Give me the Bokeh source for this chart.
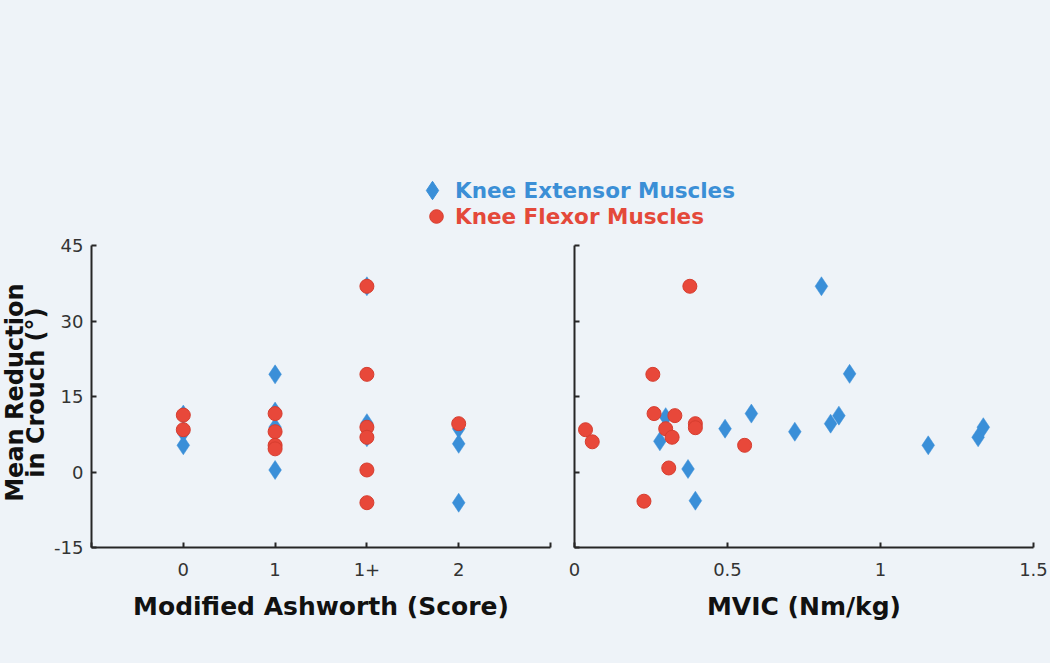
import numpy as np
from bokeh.plotting import figure
from bokeh.models import Range1d, FixedTicker, Legend, LegendItem, Label, PrintfTickFormatter
from bokeh.layouts import column, row
from bokeh.embed import file_html
from bokeh.resources import INLINE

# ---------------- data ----------------
ash_categories = ["0", "1", "1+", "2"]

ext_ash_cat = ["0", "0", "0", "1", "1", "1", "1", "1+", "1+", "1+", "2", "2", "2"]
ext_ash_y = [11.4, 7.8, 5.3, 19.4, 12.0, 8.9, 0.4, 36.9, 9.7, 6.9, 8.6, 5.6, -6.1]

flex_ash_cat = ["0", "0", "1", "1", "1", "1", "1+", "1+", "1+", "1+", "1+", "1+", "2"]
flex_ash_y = [11.3, 8.4, 11.6, 8.0, 5.3, 4.6, 36.9, 19.4, 8.9, 6.9, 0.4, -6.1, 9.6]

ext_mvic_x = [0.298, 0.279, 0.371, 0.395, 0.492, 0.578, 0.720, 0.807, 0.837, 0.864, 0.899, 1.156, 1.319, 1.336]
ext_mvic_y = [10.9, 6.1, 0.6, -5.7, 8.6, 11.6, 8.0, 36.9, 9.6, 11.2, 19.5, 5.3, 6.9, 8.9]

flex_mvic_x = [0.036, 0.058, 0.256, 0.260, 0.328, 0.298, 0.319, 0.395, 0.395, 0.377, 0.308, 0.227, 0.556]
flex_mvic_y = [8.4, 6.0, 19.4, 11.6, 11.2, 8.6, 6.9, 9.6, 8.8, 36.9, 0.8, -5.8, 5.3]

y_ticks = [-15, 0, 15, 30, 45]
mvic_ticks = [0, 0.5, 1, 1.5]
legend_labels = ["Knee Extensor Muscles", "Knee Flexor Muscles"]
x_label_left = "Modified Ashworth (Score)"
x_label_right = "MVIC (Nm/kg)"
y_label_lines = ["Mean Reduction", "in Crouch (\u00b0)"]

# ---------------- style ----------------
BG = "#eef3f8"
BLUE = "#3a8fd8"
RED = "#e8483a"
RED_EDGE = "#d63d2f"
BLUE_TXT = "#3b8fd6"
RED_TXT = "#e4493a"
AX = "#262626"
FONT = "DejaVu Sans"

ext_ash_x = [ash_categories.index(c) for c in ext_ash_cat]
flex_ash_x = [ash_categories.index(c) for c in flex_ash_cat]

yr = Range1d(-15, 45)
ROW_H = 427
TOP_H = 236
YL_W = 50


def style(p):
    p.background_fill_color = BG
    p.border_fill_color = BG
    p.outline_line_color = None
    p.xgrid.visible = False
    p.ygrid.visible = False
    for ax in (p.xaxis[0], p.yaxis[0]):
        ax.axis_line_color = AX
        ax.axis_line_width = 2
        ax.major_tick_line_color = AX
        ax.major_tick_line_width = 2
        ax.major_tick_in = 5
        ax.major_tick_out = 0
        ax.minor_tick_line_color = None
        ax.major_label_text_font = FONT
        ax.major_label_text_font_size = "18px"
        ax.major_label_text_color = "#333333"
        ax.axis_label_text_font = FONT
        ax.axis_label_text_font_size = "25px"
        ax.axis_label_text_font_style = "bold"
        ax.axis_label_text_color = "#111111"
    p.xaxis.major_label_standoff = 15
    p.xaxis.axis_label_standoff = 13
    p.yaxis.major_label_standoff = 8
    p.yaxis.ticker = FixedTicker(ticks=y_ticks)
    p.yaxis.formatter = PrintfTickFormatter(format="%d")


# y-axis title strip
py = figure(width=YL_W, height=ROW_H, x_range=Range1d(0, YL_W), y_range=Range1d(0, ROW_H),
            output_backend="svg", toolbar_location=None,
            x_axis_location=None, y_axis_location=None, min_border=0)
py.background_fill_color = BG
py.border_fill_color = BG
py.outline_line_color = None
py.xgrid.visible = False
py.ygrid.visible = False
for line, px in zip(y_label_lines, [14, 35.5]):
    py.add_layout(Label(x=px, y=219, x_units="data", y_units="data",
                        text=line, angle=np.pi / 2, text_align="center", text_baseline="middle",
                        text_font=FONT, text_font_style="bold", text_font_size="24px",
                        text_color="#111111"))

# left panel
p1 = figure(width=562 - YL_W, height=ROW_H, x_range=Range1d(-1, 4), y_range=yr,
            output_backend="svg", toolbar_location=None,
            min_border_left=91 - YL_W, min_border_right=12, min_border_top=9, min_border_bottom=116)
style(p1)
p1.xaxis.ticker = FixedTicker(ticks=[-1, 0, 1, 2, 3, 4])
ov = {-1: "", 4: ""}
ov.update({i: c for i, c in enumerate(ash_categories)})
p1.xaxis.major_label_overrides = ov
p1.xaxis.axis_label = x_label_left
p1.scatter(ext_ash_x, ext_ash_y, marker="diamond", size=19, fill_color=BLUE, line_color=BLUE, line_width=0.5)
p1.scatter(flex_ash_x, flex_ash_y, marker="circle", size=14, fill_color=RED, line_color=RED_EDGE, line_width=1)

# right panel
p2 = figure(width=488, height=ROW_H, x_range=Range1d(0, 1.5), y_range=yr,
            output_backend="svg", toolbar_location=None,
            min_border_left=12, min_border_right=17, min_border_top=9, min_border_bottom=116)
style(p2)
p2.xaxis.ticker = FixedTicker(ticks=mvic_ticks)
p2.xaxis.formatter = PrintfTickFormatter(format="%g")
p2.yaxis.major_label_overrides = {t: "" for t in y_ticks}
p2.xaxis.axis_label = x_label_right
p2.scatter(ext_mvic_x, ext_mvic_y, marker="diamond", size=19, fill_color=BLUE, line_color=BLUE, line_width=0.5)
p2.scatter(flex_mvic_x, flex_mvic_y, marker="circle", size=14, fill_color=RED, line_color=RED_EDGE, line_width=1)

# legend strip on top
p0 = figure(width=1050, height=TOP_H, x_range=Range1d(0, 1), y_range=Range1d(0, 1),
            output_backend="svg", toolbar_location=None,
            x_axis_location=None, y_axis_location=None, min_border=0)
p0.background_fill_color = BG
p0.border_fill_color = BG
p0.outline_line_color = None
p0.xgrid.visible = False
p0.ygrid.visible = False
r_ext = p0.scatter(ext_mvic_x, ext_mvic_y, marker="diamond", fill_color=BLUE, line_color=BLUE, visible=False)
r_flex = p0.scatter(flex_mvic_x, flex_mvic_y, marker="circle", fill_color=RED, line_color=RED_EDGE, visible=False)

for r, lab, col, loc, gw, gh in [(r_ext, legend_labels[0], BLUE_TXT, (409, 18), 46, 56),
                                  (r_flex, legend_labels[1], RED_TXT, (417, 3), 38, 34)]:
    leg = Legend(items=[LegendItem(label=lab, renderers=[r])], location=loc,
                 glyph_width=gw, glyph_height=gh, label_standoff=0,
                 padding=0, margin=0, spacing=0,
                 border_line_color=None, background_fill_alpha=0,
                 inactive_fill_alpha=0,
                 label_text_font=FONT, label_text_font_style="bold",
                 label_text_font_size="21.5px", label_text_color=col)
    p0.add_layout(leg)

layout = column(p0, row(py, p1, p2))

html = file_html(layout, INLINE)
html = html.replace("</head>", "<style>html,body{background:%s;}</style></head>" % BG, 1)
open("out.html", "w").write(html)
